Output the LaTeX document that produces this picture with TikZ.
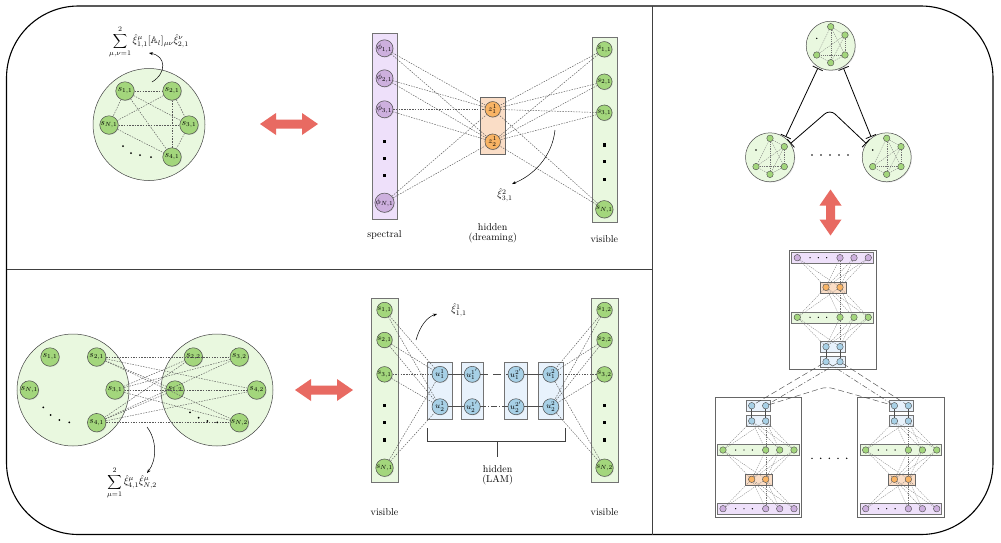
\documentclass[tikz,border=0pt]{standalone}
\usepackage{amsmath,amssymb}
\usetikzlibrary{arrows.meta,shadows}
\definecolor{ngreen}{HTML}{A3D67C}
\definecolor{lgreen}{HTML}{E9F8DF}
\definecolor{npurple}{HTML}{CDB0DE}
\definecolor{lpurple}{HTML}{EEE0FA}
\definecolor{norange}{HTML}{F9B465}
\definecolor{lorange}{HTML}{FADDC6}
\definecolor{nblue}{HTML}{A7D0E6}
\definecolor{lblue}{HTML}{E8F2FC}
\definecolor{redarr}{HTML}{E86A62}
\tikzset{
  nd/.style={circle, draw=black!70, inner sep=0pt, line width=0.5pt,
    drop shadow={opacity=0.25,shadow xshift=0.7pt,shadow yshift=-0.7pt}},
  gn/.style={nd, fill=ngreen, minimum size=18.5pt, font=\small},
  gs/.style={nd, fill=ngreen, minimum size=15.5pt, font=\footnotesize},
  pn/.style={nd, fill=npurple, minimum size=15.5pt, font=\footnotesize},
  on/.style={nd, fill=norange, minimum size=15.5pt, font=\footnotesize},
  bn/.style={nd, fill=nblue, minimum size=16pt, font=\footnotesize},
  edg/.style={draw=black!65, dash pattern=on 1.5pt off 1.2pt, line width=0.45pt},
  edg2/.style={draw=black!55, dash pattern=on 1.2pt off 1pt, line width=0.3pt},
  tnbase/.style={circle, draw=black!70, inner sep=0pt, minimum size=6.5pt, line width=0.4pt},
  tng/.style={tnbase, fill=ngreen},
  tnp/.style={tnbase, fill=npurple},
  tno/.style={tnbase, fill=norange},
  tnb/.style={tnbase, fill=nblue},
  sq/.style={rectangle, fill=black, minimum size=3.2pt, inner sep=0pt},
  colbox/.style={draw=black!55, line width=0.6pt},
  lbl/.style={font=\normalsize},
  curarrow/.style={-{Stealth[length=4pt,width=3pt]}, line width=0.5pt},
  barline/.style={{Bar[width=11pt]}-{Bar[width=11pt]}, line width=0.8pt},
  crossline/.style={draw=black!70, line width=0.45pt},
  redshape/.style={fill=redarr},
}
\newcommand{\cluster}[3]{%
  \begin{scope}[shift={(#2,#3)}]
    \node[circle, draw=black!70, fill=lgreen, minimum size=49pt, inner sep=0pt, line width=0.5pt,
      drop shadow={opacity=0.2,shadow xshift=0.8pt,shadow yshift=-0.8pt}] (#1) at (0,0) {};
    \foreach \i/\x/\y in {1/0/-19,2/14.3/-10.7,3/14.3/9.3,4/0/17,5/-14/9.3}
      \node[tng] (#1n\i) at (\x,\y) {};
    \fill (-14,-7.3) circle (0.8pt);
    \foreach \a/\b in {1/2,1/3,1/4,1/5,2/3,2/4,2/5,3/4,3/5,4/5}
      \draw[edg2] (#1n\a) -- (#1n\b);
  \end{scope}}
\newcommand{\stackfig}[7]{%
  \begin{scope}[shift={(#2,0)}]
    \filldraw[fill=lpurple,draw=black!55,line width=0.5pt] (791.7,#3-5.3) rectangle (873.3,#3+5.3);
    \filldraw[fill=lorange,draw=black!60,line width=0.5pt] (820,#4-5.5) rectangle (846.7,#4+5.5);
    \filldraw[fill=lgreen,draw=black!55,line width=0.5pt] (791.7,#5-5.5) rectangle (873.3,#5+5.5);
    \filldraw[fill=lblue,draw=black!55,line width=0.5pt] (820.7,#6-5.3) rectangle (845,#6+5.3);
    \filldraw[fill=lblue,draw=black!55,line width=0.5pt] (820.7,#7-5.3) rectangle (845,#7+5.3);
    \foreach \i/\x in {1/797.3,2/840,3/854,4/868.3} {
      \node[tnp] (#1p\i) at (\x,#3) {};
      \node[tng] (#1g\i) at (\x,#5) {};
    }
    \foreach \i/\x in {1/826,2/840} {
      \node[tno] (#1o\i) at (\x,#4) {};
      \node[tnb] (#1a\i) at (\x,#6) {};
      \node[tnb] (#1f\i) at (\x,#7) {};
    }
    \foreach \x in {810,818.3,826.7} {
      \fill (\x,#3) circle (0.7pt);
      \fill (\x,#5) circle (0.7pt);
    }
    \foreach \i in {1,2,3,4} {
      \foreach \j in {1,2} {
        \draw[edg2] (#1p\i) -- (#1o\j);
        \draw[edg2] (#1o\j) -- (#1g\i);
        \draw[edg2] (#1g\i) -- (#1a\j);
      }
    }
    \foreach \j in {1,2} \draw[black!70, line width=0.5pt] (#1a\j) -- (#1f\j);
  \end{scope}}
\begin{document}
\begin{tikzpicture}[x=1pt,y=-1pt]
\useasboundingbox (0,0) rectangle (1001,542);
\fill[white] (0,0) rectangle (1001,542);
% outer frame and dividers
\draw[line width=1.1pt, rounded corners=72pt] (6.5,6) rectangle (993,534.5);
\draw[line width=1.1pt, black!75] (652.5,6) -- (652.5,534.5);
\draw[line width=1.1pt, black!75] (6.5,269.5) -- (652.5,269.5);

% ===== Panel 1 =====
\draw[fill=lgreen, draw=black!75, line width=0.5pt] (149,124.5) circle (56pt);
\node[gn] (a11) at (125,91) {$s_{1,1}$};
\node[gn] (a21) at (172,91) {$s_{2,1}$};
\node[gn] (aN1) at (109,125) {$s_{N,1}$};
\node[gn] (a31) at (189,125) {$s_{3,1}$};
\node[gn] (a41) at (172,157) {$s_{4,1}$};
\foreach \u/\v in {a11/a21,a11/a31,a11/a41,a11/aN1,a21/aN1,a21/a31,a21/a41,aN1/a31,aN1/a41,a31/a41}
  \draw[edg] (\u) -- (\v);
\foreach \x/\y in {123/146,131/153,140/155,151/157} \fill (\x,\y) circle (1pt);
\node[lbl] (lab1) at (149,42) {$\displaystyle\sum_{\mu,\nu=1}^{2}\hat{\xi}^{\mu}_{1,1}[\mathbb{A}_l]_{\mu\nu}\hat{\xi}^{\nu}_{2,1}$};
\coordinate (c1a) at (152,82);
\coordinate (c1b) at (149,53);
\draw[curarrow] (c1a) .. controls (167,73) and (166,56) .. (c1b);
\fill[redshape] (260,124) -- (276,113) -- (276,119.5) -- (302,119.5) -- (302,113) -- (318,124)
  -- (302,135) -- (302,128.5) -- (276,128.5) -- (276,135) -- cycle;

% ===== Panel 2 =====
\filldraw[fill=lpurple, colbox] (372,33) rectangle (397,219);
\filldraw[fill=lorange, colbox, draw=black!60] (480,97) rectangle (505.5,154);
\filldraw[fill=lgreen, colbox] (592,37) rectangle (617,222);
\node[pn] (p1) at (384.5,48.3) {$\phi_{1,1}$};
\node[pn] (p2) at (384.5,78.3) {$\phi_{2,1}$};
\node[pn] (p3) at (384.5,109.3) {$\phi_{3,1}$};
\node[pn] (p4) at (384.5,202.7) {$\phi_{N,1}$};
\foreach \y in {141.7,158.3,175.7} \node[sq] at (384.5,\y) {};
\node[on] (z1) at (492.7,109.3) {$z^{1}_{1}$};
\node[on] (z2) at (492.7,141.7) {$z^{1}_{2}$};
\node[gs] (v1) at (604.3,49.3) {$s_{1,1}$};
\node[gs] (v2) at (604.3,81.7) {$s_{2,1}$};
\node[gs] (v3) at (604.3,112.7) {$s_{3,1}$};
\node[gs] (v4) at (604.3,209.3) {$s_{N,1}$};
\foreach \y in {145,161.7,179.3} \node[sq] at (604.3,\y) {};
\foreach \i in {1,2,3,4} {
  \foreach \j in {1,2} {
    \draw[edg] (p\i) -- (z\j);
    \draw[edg] (v\i) -- (z\j);
  }
}
\coordinate (c2a) at (555,130);
\coordinate (c2b) at (512,184);
\draw[curarrow] (c2a) .. controls (552,158) and (532,176) .. (c2b);
\node[lbl] (lab2) at (505,195) {$\hat{\xi}^{2}_{3,1}$};
\node[lbl] (t1) at (384.5,235) {spectral};
\node[lbl, align=center] (t2) at (492.7,233) {hidden\\[-2pt](dreaming)};
\node[lbl] (t3) at (604.3,239) {visible};

% ===== Panel 3 =====
\draw[fill=lgreen, draw=black!75, line width=0.5pt] (73,390) circle (56pt);
\draw[fill=lgreen, draw=black!75, line width=0.5pt] (217,390) circle (56pt);
\node[gn] (b11) at (50,357) {$s_{1,1}$};
\node[gn] (b21) at (96.7,357) {$s_{2,1}$};
\node[gn] (bN1) at (29.3,390) {$s_{N,1}$};
\node[gn] (b31) at (115,390) {$s_{3,1}$};
\node[gn] (b41) at (96.7,422.7) {$s_{4,1}$};
\node[gn] (b22) at (193.3,357) {$s_{2,2}$};
\node[gn] (b32) at (239.3,357) {$s_{3,2}$};
\node[gn] (b12) at (175,390) {$s_{1,2}$};
\node[gn] (b42) at (256.7,390) {$s_{4,2}$};
\node[gn] (bN2) at (239.3,422.7) {$s_{N,2}$};
\foreach \u in {b21,b31,b41} {
  \foreach \v in {b22,b12,b32,b42,bN2} \draw[edg] (\u) -- (\v);
}
\foreach \x/\y in {43.3/407.3,50.7/415,59.3/420,69.3/422.3,190/412.3,198.7/417.7,207.3/421,217.3/422.3}
  \fill (\x,\y) circle (1pt);
\coordinate (c3a) at (147,427);
\coordinate (c3b) at (147,473);
\draw[curarrow] (c3a) .. controls (157,440) and (157,460) .. (c3b);
\node[lbl] (lab3) at (132,483) {$\displaystyle\sum_{\mu=1}^{2}\hat{\xi}^{\mu}_{4,1}\hat{\xi}^{\mu}_{N,2}$};
\fill[redshape] (295,390) -- (311,379) -- (311,385.5) -- (337,385.5) -- (337,379) -- (353,390)
  -- (337,401) -- (337,394.5) -- (311,394.5) -- (311,401) -- cycle;

% ===== Panel 4 =====
\filldraw[fill=lgreen, colbox] (371,298) rectangle (398,482);
\filldraw[fill=lgreen, colbox] (591,298) rectangle (618,482);
\foreach \xa/\xb in {427.7/452.3,461/483.3,504.3/527.7,538.3/563.3}
  \filldraw[fill=lblue, colbox] (\xa,362.7) rectangle (\xb,419);
\node[gs] (l1) at (384.5,310) {$s_{1,1}$};
\node[gs] (l2) at (384.5,340) {$s_{2,1}$};
\node[gs] (l3) at (384.5,374.3) {$s_{3,1}$};
\node[gs] (l4) at (384.5,467.7) {$s_{N,1}$};
\node[gs] (r1) at (604.5,310) {$s_{1,2}$};
\node[gs] (r2) at (604.5,340) {$s_{2,2}$};
\node[gs] (r3) at (604.5,374.3) {$s_{3,2}$};
\node[gs] (r4) at (604.5,467.7) {$s_{N,2}$};
\foreach \y in {405.7,422.3,440} {
  \node[sq] at (384.5,\y) {};
  \node[sq] at (604.5,\y) {};
}
\node[bn] (u11) at (440,374.3) {$u^{1}_{1}$};
\node[bn] (u21) at (440,406.7) {$u^{1}_{2}$};
\node[bn] (u11p) at (472.2,374.3) {$u^{1'}_{1}$};
\node[bn] (u21p) at (472.2,406.7) {$u^{1'}_{2}$};
\node[bn] (u12p) at (516,374.3) {$u^{2'}_{1}$};
\node[bn] (u22p) at (516,406.7) {$u^{2'}_{2}$};
\node[bn] (u12) at (550.8,374.3) {$u^{2}_{1}$};
\node[bn] (u22) at (550.8,406.7) {$u^{2}_{2}$};
\draw[black!70, line width=0.7pt] (u11) -- (u11p);
\draw[black!70, line width=0.7pt, dash pattern=on 8pt off 5pt] (u11p) -- (u12p);
\draw[black!70, line width=0.7pt] (u12p) -- (u12);
\draw[black!70, line width=0.7pt] (u21) -- (u21p);
\draw[black!70, line width=0.7pt, dash pattern=on 6pt off 2pt on 1pt off 2pt] (u21p) -- (u22p);
\draw[black!70, line width=0.7pt] (u22p) -- (u22);
\foreach \i in {1,2,3,4} {
  \draw[edg] (l\i) -- (u11);
  \draw[edg] (l\i) -- (u21);
  \draw[edg] (r\i) -- (u12);
  \draw[edg] (r\i) -- (u22);
}
\coordinate (br1) at (427.7,428);
\coordinate (br2) at (565.7,428);
\coordinate (br3) at (497.7,441.7);
\coordinate (br4) at (497.7,456.7);
\draw[black!75, line width=0.9pt] (br1) -- (427.7,441.7) -- (565.7,441.7) -- (br2);
\draw[black!75, line width=0.9pt] (br3) -- (br4);
\node[lbl, align=center] (t4) at (497.7,475) {hidden\\[-2pt](LAM)};
\node[lbl] (t5) at (384.5,511.7) {visible};
\node[lbl] (t6) at (604.5,511.7) {visible};
\coordinate (c4a) at (416,340);
\coordinate (c4b) at (437,314);
\draw[curarrow] (c4a) .. controls (420,326) and (427,317) .. (c4b);
\node[lbl] (lab4) at (459,310) {$\hat{\xi}^{1}_{1,1}$};

% ===== Panel 5 =====
\cluster{ct}{830.7}{45.7}
\cluster{cl}{770}{157.3}
\cluster{cr}{886.7}{157.3}
\draw[barline, shorten <=1pt, shorten >=1pt] (cl.52) -- (ct.240);
\draw[barline, shorten <=1pt, shorten >=1pt] (cr.128) -- (ct.300);
\coordinate (peak) at (830,109.3);
\draw[barline, rounded corners=7pt] (cl.34) -- (peak) -- (cr.146);
\foreach \x in {812,821,830,839,848} \fill (\x,155) circle (0.8pt);
\fill[redshape] (830.5,189.5) -- (819.5,205.5) -- (826,205.5) -- (826,219.5) -- (819.5,219.5) -- (830.5,235.5)
  -- (841.5,219.5) -- (835,219.5) -- (835,205.5) -- (841.5,205.5) -- cycle;

% ===== Panel 6 =====
\draw[black!60, line width=0.6pt, fill=white] (789.3,250) rectangle (876,369.3);
\draw[black!60, line width=0.6pt, fill=white] (715,397.3) rectangle (801.7,517.3);
\draw[black!60, line width=0.6pt, fill=white] (857.7,397.3) rectangle (944.3,517.3);
\stackfig{T}{0}{257.7}{287.3}{317.3}{346.7}{361.7}
\stackfig{L}{-74.3}{508.7}{479.3}{450}{421}{405.7}
\stackfig{R}{68.4}{508.7}{479.3}{450}{421}{405.7}
\draw[crossline, dash pattern=on 6pt off 3pt] (Tf1) -- (Lf1);
\draw[crossline, dash pattern=on 5pt off 2pt on 1pt off 2pt] (Tf2) -- (Lf2);
\draw[crossline, dash pattern=on 5pt off 2pt on 1pt off 2pt] (Tf1) -- (Rf1);
\draw[crossline, dash pattern=on 6pt off 3pt] (Tf2) -- (Rf2);
\coordinate (peak2) at (826.7,386.7);
\draw[crossline, dash pattern=on 6pt off 3pt, rounded corners=6pt] (Lf2) -- (peak2) -- (Rf1);
\foreach \x in {812,820.7,829.3,838,846.7} \fill (\x,458.3) circle (0.8pt);
\end{tikzpicture}
\end{document}
